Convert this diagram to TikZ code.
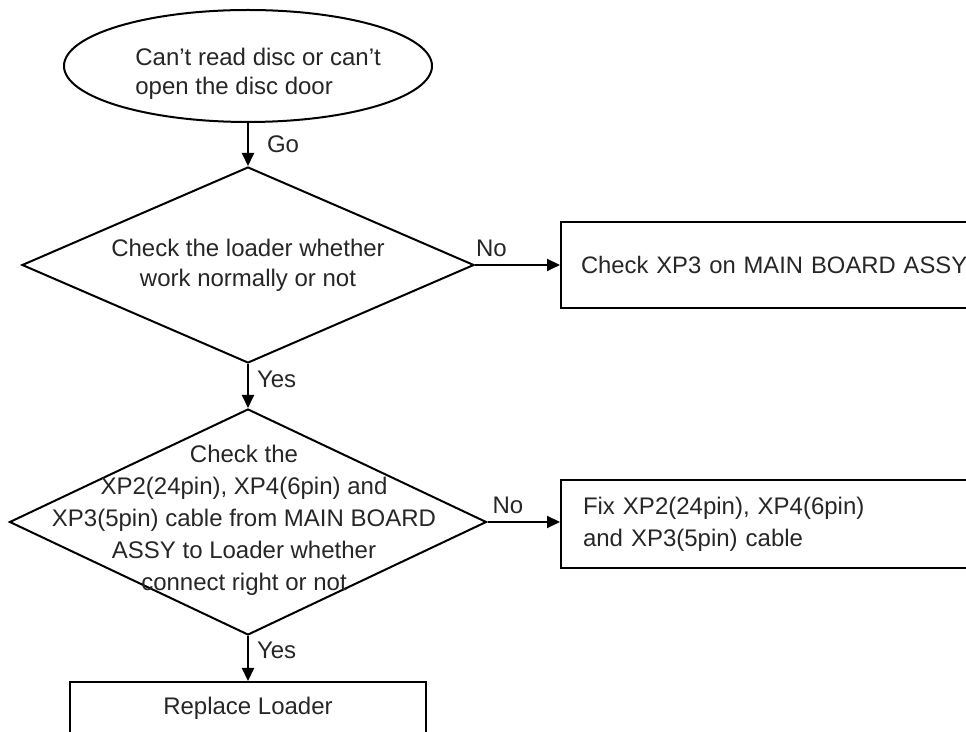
\documentclass[tikz,border=0pt]{standalone}
\usepackage{fontspec}
\setmainfont{Liberation Sans}
\usepackage{tikz}
\usetikzlibrary{shapes.geometric,arrows.meta,positioning}
\tikzset{startstop/.style={draw, ellipse, line width=1pt, inner sep=0pt},
         decision/.style={draw, diamond, aspect=2.3, line width=1pt, inner sep=0pt, align=center,
                          text=black!85, font=\fontsize{12}{15}\selectfont},
         process/.style={draw, rectangle, line width=1pt, inner ysep=0pt,
                         text=black!85, font=\fontsize{12}{16}\selectfont},
         txt/.style={inner sep=0pt, text=black!85, font=\fontsize{12}{16}\selectfont},
         lbl/.style={inner sep=0pt, text=black!85, font=\fontsize{12}{14}\selectfont},
         arrow/.style={line width=1pt, -{Triangle[length=6.5pt,width=6pt]}}}

\begin{document}
\begin{tikzpicture}[x=0.5pt, y=-0.5pt]
                \useasboundingbox (0,0) rectangle (966,732);
                \clip (0,0) rectangle (966,732);

                % shapes
                \node[startstop, minimum width=184pt, minimum height=56pt] (start) at (248,66) {};
                \node[txt, anchor=west, align=left, font=\fontsize{12}{14.5}\selectfont] (starttxt) at (135,74) {Can’t read disc or can’t\\open the disc door};

                \node[decision, minimum width=226pt, minimum height=98pt] (dia1) at (248,265) {Check the loader whether\\work normally or not};
                \node[decision, minimum width=238.5pt, minimum height=113pt] (dia2) at (248,522) {};
                \node[txt, align=center] (dia2txt) at (244,520) {Check the\\XP2(24pin), XP4(6pin) and\\XP3(5pin) cable from MAIN BOARD\\ASSY to Loader whether\\connect right or not};

                \node[process, anchor=west, minimum height=43pt, inner xsep=10pt, text width=208pt, align=left, font=\fontsize{11.9}{16}\selectfont] (xp3) at (560,265) {Check XP3 on MAIN BOARD ASSY};
                \node[process, anchor=west, minimum height=44pt, inner xsep=11pt, text width=208pt, align=left] (fix) at (560,524) {Fix XP2(24pin), XP4(6pin)\\and XP3(5pin) cable};
                \node[process, anchor=north, minimum width=178pt, minimum height=36pt, text depth=12pt] (loader) at (248,681) {Replace Loader};

                % connectors
                \draw[arrow] (start.south) -- node[lbl, right, xshift=9pt] {Go} (dia1.north);
                \draw[arrow] (dia1.south) -- node[lbl, right, xshift=4pt, pos=0.34] {Yes} (dia2.north);
                \draw[arrow] (dia1.east) -- node[lbl, above right, pos=0, yshift=3.5pt] {No} (xp3.west);
                \draw[arrow] (dia2.east) -- node[lbl, above right, pos=0, xshift=2pt, yshift=3.5pt] {No} (fix.west |- dia2.east);
                \draw[arrow] (dia2.south) -- node[lbl, right, xshift=4pt, pos=0.31] {Yes} (loader.north);
\end{tikzpicture}
\end{document}
